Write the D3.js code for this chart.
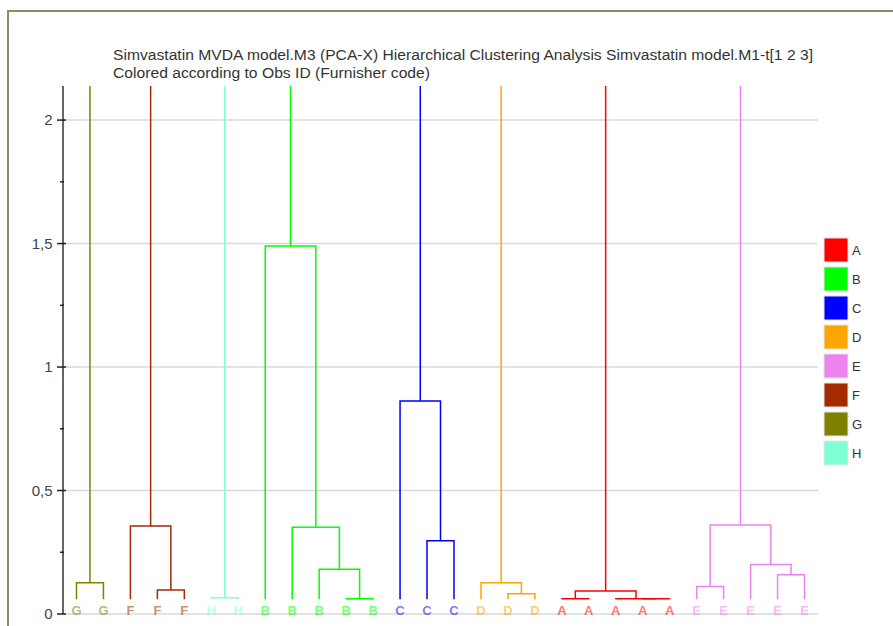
<!DOCTYPE html>
<html>
<head>
<meta charset="utf-8">
<script src="https://cdn.jsdelivr.net/npm/d3@7"></script>
<style>
  html, body { margin: 0; padding: 0; background: #fff; }
  svg { display: block; font-family: "Liberation Sans", Arial, sans-serif; }
</style>
</head>
<body>
<svg id="chart" width="893" height="626"></svg>
<script>
// ---------- DATA ----------
const titleLines = [
  "Simvastatin MVDA model.M3 (PCA-X) Hierarchical Clustering Analysis Simvastatin model.M1-t[1 2 3]",
  "Colored according to Obs ID (Furnisher code)"
];
// leaf order along the x axis
const leafLabels = ["G","G","F","F","F","H","H","B","B","B","B","B","C","C","C","D","D","D","A","A","A","A","A","E","E","E","E","E"];
// merges: [left node, right node, height]; node ids >= leafLabels.length refer to earlier merges
const merges = [
  [0, 1, 0.127],    // 28 G
  [3, 4, 0.097],    // 29
  [2, 29, 0.356],   // 30 F
  [5, 6, 0.066],    // 31 H
  [10, 11, 0.062],  // 32
  [9, 32, 0.181],   // 33
  [8, 33, 0.351],   // 34
  [7, 34, 1.490],   // 35 B
  [13, 14, 0.297],  // 36
  [12, 36, 0.862],  // 37 C
  [16, 17, 0.082],  // 38
  [15, 38, 0.127],  // 39 D
  [18, 19, 0.062],  // 40
  [21, 22, 0.062],  // 41
  [20, 41, 0.062],  // 42
  [40, 42, 0.093],  // 43 A
  [23, 24, 0.111],  // 44
  [26, 27, 0.159],  // 45
  [25, 45, 0.200],  // 46
  [44, 46, 0.360]   // 47 E
];
const leafBase = 0.06;
const yTicks = [0, 0.5, 1, 1.5, 2];
const yMinorTicks = [0.25, 0.75, 1.25, 1.75];
const yMax = 2.138;
const legendKeys = ["A","B","C","D","E","F","G","H"];
const legendColors = ["#ff0000","#00ff00","#0000ff","#ffa500","#ee82ee","#a52a00","#808000","#7fffd4"];

// ---------- CHART ----------
const svg = d3.select("#chart");
const color = d3.scaleOrdinal().domain(legendKeys).range(legendColors);

const x = d3.scaleBand().domain(d3.range(leafLabels.length)).range([63, 818]).padding(0);
const y = d3.scaleLinear().domain([0, yMax]).range([614, 86]);

// frame
svg.append("path")
  .attr("d", "M8,626V11H893")
  .attr("fill", "none")
  .attr("stroke", "#958a5a")
  .attr("stroke-width", 2);

// title
const titleWidths = [700, 317];
titleLines.forEach((t, i) => {
  svg.append("text")
    .attr("x", 113).attr("y", 60 + i * 18)
    .attr("font-size", 14).attr("fill", "#333")
    .attr("textLength", titleWidths[i])
    .attr("lengthAdjust", "spacingAndGlyphs")
    .text(t);
});

// grid
svg.append("g").selectAll("line").data(yTicks).join("line")
  .attr("x1", 63).attr("x2", 818)
  .attr("y1", d => y(d)).attr("y2", d => y(d))
  .attr("stroke", "#d9d9d9").attr("stroke-width", 1.5);

// dendrogram geometry
const n = leafLabels.length;
const nodes = leafLabels.map((lab, i) => ({ x: x(i) + x.bandwidth() / 2, h: leafBase, label: lab }));
merges.forEach(([a, b, h]) => {
  nodes.push({ x: (nodes[a].x + nodes[b].x) / 2, h: h, label: nodes[a].label, a, b });
});
const hasParent = new Set();
merges.forEach(([a, b]) => { hasParent.add(a); hasParent.add(b); });

const dg = svg.append("g").attr("fill", "none").attr("stroke-width", 1.5);
nodes.forEach((nd, i) => {
  if (i < n) return;
  const A = nodes[nd.a], B = nodes[nd.b];
  const c = color(nd.label);
  const p = d3.path();
  p.moveTo(A.x, y(A.h));
  p.lineTo(A.x, y(nd.h));
  p.lineTo(B.x, y(nd.h));
  p.lineTo(B.x, y(B.h));
  dg.append("path").attr("d", p.toString()).attr("stroke", c);
  if (!hasParent.has(i)) {
    dg.append("line")
      .attr("x1", nd.x).attr("x2", nd.x)
      .attr("y1", y(nd.h)).attr("y2", y(yMax))
      .attr("stroke", c);
  }
});

// leaf labels
svg.append("g").selectAll("text").data(leafLabels).join("text")
  .attr("x", (d, i) => x(i) + x.bandwidth() / 2)
  .attr("y", 615)
  .attr("text-anchor", "middle")
  .attr("font-size", 13)
  .attr("font-weight", "bold")
  .attr("fill", d => color(d))
  .attr("fill-opacity", 0.55)
  .text(d => d);

// y axis
const ax = svg.append("g");
ax.append("line").attr("x1", 63).attr("x2", 63).attr("y1", y(0)).attr("y2", y(yMax))
  .attr("stroke", "#333").attr("stroke-width", 1.5);
ax.selectAll("line.maj").data(yTicks).join("line").attr("class", "maj")
  .attr("x1", 57).attr("x2", 66).attr("y1", d => y(d)).attr("y2", d => y(d))
  .attr("stroke", "#222").attr("stroke-width", 1.5);
ax.selectAll("line.min").data(yMinorTicks).join("line").attr("class", "min")
  .attr("x1", 60).attr("x2", 64).attr("y1", d => y(d)).attr("y2", d => y(d))
  .attr("stroke", "#222").attr("stroke-width", 1.5);
ax.selectAll("text").data(yTicks).join("text")
  .attr("x", 52.5).attr("y", d => y(d)).attr("dy", "0.36em")
  .attr("text-anchor", "end").attr("font-size", 15).attr("fill", "#444")
  .text(d => String(d).replace(".", ","));

// legend
const lg = svg.append("g").selectAll("g").data(legendKeys).join("g")
  .attr("transform", (d, i) => `translate(824,${238 + i * 29})`);
lg.append("rect").attr("width", 24).attr("height", 24)
  .attr("fill", d => color(d)).attr("stroke", "#e6e6e6").attr("stroke-width", 1);
lg.append("text").attr("x", 28).attr("y", 12).attr("dy", "0.36em")
  .attr("font-size", 13).attr("fill", "#333").text(d => d);
</script>
</body>
</html>
